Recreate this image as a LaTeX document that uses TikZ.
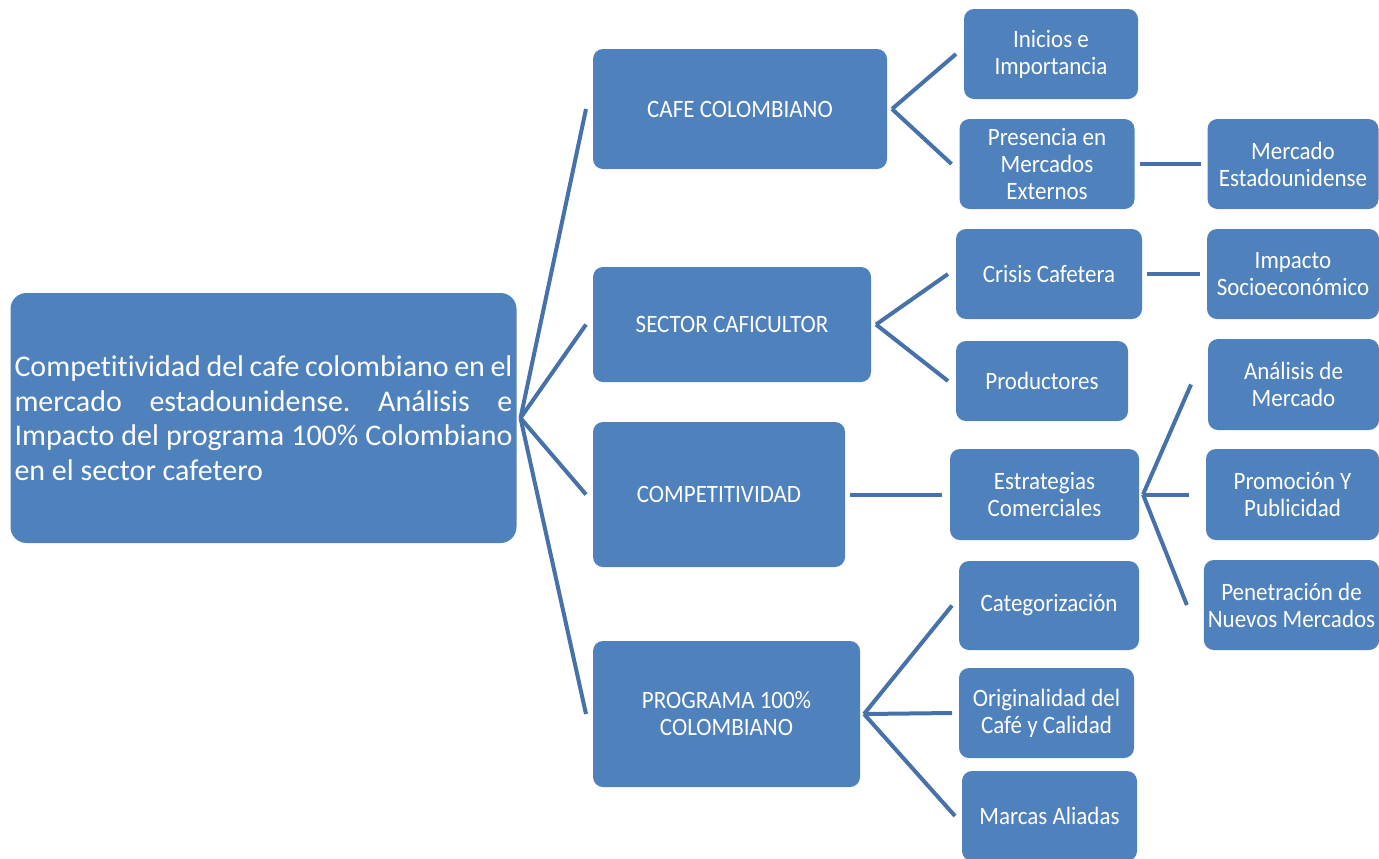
\documentclass[tikz,border=0pt]{standalone}
\usepackage{fontspec}
\setmainfont[Ligatures=NoCommon]{Carlito}
\newfontfamily\boxfont[FakeStretch=0.92,Ligatures=NoCommon]{Carlito}
\definecolor{boxblue}{HTML}{4F81BD}
\definecolor{lineblue}{HTML}{4672A9}
\frenchspacing

\begin{document}
\begin{tikzpicture}[x=0.5pt,y=-0.5pt,draw=lineblue,line width=2pt]
 	\def \colone{740}
 	\def \coltwo{1047}
 	\def \colthree{1293}
 	\tikzstyle{b-node}=[rectangle,rounded corners=5pt,fill=boxblue,text=white,draw=none,inner sep=2pt,align=center,font=\boxfont\fontsize{12.5}{13.5}\selectfont]
 	\tikzstyle{t-node}=[b-node,rounded corners=8pt,align=justify,text width=249pt,minimum height=125pt,font=\rmfamily\fontsize{15}{17.25}\selectfont]
 	\useasboundingbox (0,0) rectangle (1379,858);

 	% main topic
 	\node[t-node] (topic) at (263.5,418) {Competitividad del cafe colombiano en el\linebreak mercado estadounidense. Análisis e\linebreak Impacto del programa 100\% Colombiano\linebreak en el sector cafetero};

 	% first level
 	\node[b-node,minimum width=147pt,minimum height=60pt]	(cafe)	at (\colone,109)	{CAFE COLOMBIANO};
 	\node[b-node,minimum width=139pt,minimum height=57.5pt]	(sector)	at (732,324.5)	{SECTOR CAFICULTOR};
 	\node[b-node,minimum width=126pt,minimum height=72.5pt]	(compet)	at (719,494.5)	{COMPETITIVIDAD};
 	\node[b-node,minimum width=133.5pt,minimum height=73pt]	(programa)	at (726.5,714)	{PROGRAMA 100\%\\COLOMBIANO};

 	% second level
 	\node[b-node,minimum width=87pt,minimum height=45pt]	(inicios)	at (1051,54)	{Inicios e\\Importancia};
 	\node[b-node,minimum width=87.5pt,minimum height=45pt]	(presencia)	at (\coltwo,164)	{Presencia en\\Mercados\\Externos};
 	\node[b-node,minimum width=93pt,minimum height=45pt]	(crisis)	at (1049,274)	{Crisis Cafetera};
 	\node[b-node,minimum width=86pt,minimum height=40pt]	(productores)	at (1042,381)	{Productores};
 	\node[b-node,minimum width=94.5pt,minimum height=45.5pt]	(estrategias)	at (1044.5,494.5)	{Estrategias\\Comerciales};
 	\node[b-node,minimum width=90pt,minimum height=44.5pt]	(categ)	at (1049,605.5)	{Categorización};
 	\node[b-node,minimum width=87.5pt,minimum height=45pt]	(original)	at (1046.5,713)	{Originalidad del\\Café y Calidad};
 	\node[b-node,minimum width=87.5pt,minimum height=45pt]	(marcas)	at (1049.5,816)	{Marcas Aliadas};

 	% third level
 	\node[b-node,minimum width=85.5pt,minimum height=45pt]	(mercado)	at (\colthree,164)	{Mercado\\Estadounidense};
 	\node[b-node,minimum width=86pt,minimum height=45pt]	(impacto)	at (\colthree,274)	{Impacto\\Socioeconómico};
 	\node[b-node,minimum width=85.5pt,minimum height=45.5pt]	(analisis)	at (1293.5,384.5)	{Análisis de\\Mercado};
 	\node[b-node,minimum width=86.5pt,minimum height=45.5pt]	(promocion)	at (1292.5,494.5)	{Promoción Y\\Publicidad};
 	\node[b-node,minimum width=87.5pt,minimum height=45pt]	(penetracion)	at (1291.5,605)	{Penetración de\\Nuevos Mercados};

 	\path ([xshift=1pt]topic.east)	edge	([xshift=-2.5pt]cafe.west)
 		([xshift=1pt]topic.east)	edge	([xshift=-2.5pt]sector.west)
 		([xshift=1pt]topic.east)	edge	([xshift=-2.5pt]compet.west)
 		([xshift=1pt]topic.east)	edge	([xshift=-2.5pt]programa.west)
 		([xshift=1.5pt]cafe.east)	edge	([xshift=-3pt]inicios.west)
 		([xshift=1.5pt]cafe.east)	edge	([xshift=-3pt]presencia.west)
 		([xshift=1.5pt]presencia.east)	edge	([xshift=-2.5pt]mercado.west)
 		([xshift=1.5pt]sector.east)	edge	([xshift=-3pt]crisis.west)
 		([xshift=1.5pt]sector.east)	edge	([xshift=-3pt]productores.west)
 		([xshift=1.5pt]crisis.east)	edge	([xshift=-2.5pt]impacto.west)
 		([xshift=1.5pt]compet.east)	edge	([xshift=-3pt]estrategias.west)
 		([xshift=1pt]estrategias.east)	edge	([xshift=-7.5pt]analisis.west)
 		([xshift=1pt]estrategias.east)	edge	([xshift=-7.5pt]promocion.west)
 		([xshift=1pt]estrategias.east)	edge	([xshift=-7.5pt]penetracion.west)
 		([xshift=1pt]programa.east)	edge	([xshift=-2.5pt]categ.west)
 		([xshift=1pt]programa.east)	edge	([xshift=-2.5pt]original.west)
 		([xshift=1pt]programa.east)	edge	([xshift=-2.5pt]marcas.west);

 \end{tikzpicture}
\end{document}
